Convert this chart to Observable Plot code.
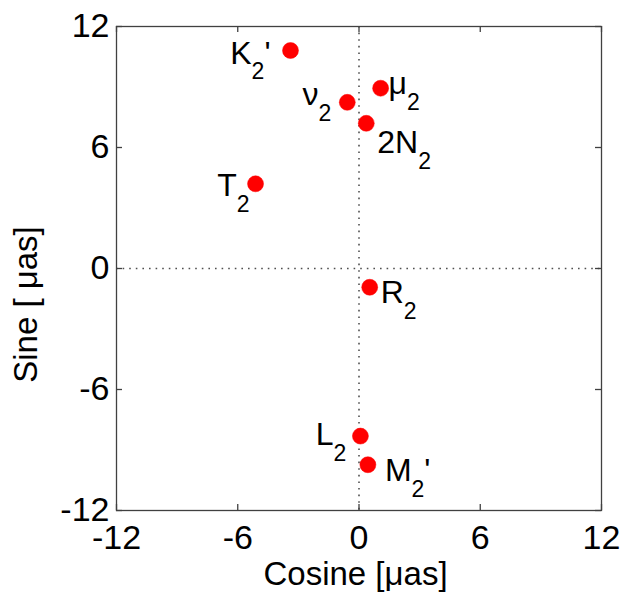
<!DOCTYPE html>
<html>
<head>
<meta charset="utf-8">
<script src="https://cdn.jsdelivr.net/npm/d3@7"></script>
<script src="https://cdn.jsdelivr.net/npm/@observablehq/plot@0.6"></script>
<style>
  html, body { margin: 0; padding: 0; background: #fff; }
  #chart { width: 624px; height: 596px; }
</style>
</head>
<body>
<div id="chart"></div>
<script>
// ---- data ----
const names  = ["K_2'", "μ_2", "ν_2", "2N_2", "T_2", "R_2", "L_2", "M_2'"];
const cosine = [-3.39, 1.07, -0.58, 0.36, -5.12, 0.53, 0.07, 0.44];
const sine   = [10.81, 8.94, 8.24, 7.20, 4.20, -0.93, -8.31, -9.73];

const xTicks = [-12, -6, 0, 6, 12];
const xTickLabels = ["-12", "-6", "0", "6", "12"];
const yTicks = [-12, -6, 0, 6, 12];
const yTickLabels = ["-12", "-6", "0", "6", "12"];

const xTitle = "Cosine [μas]";
const yTitle = "Sine [ μas]";

// ---- layout (label placement: anchor, dx, baseline offset in px) ----
const placement = {
  "K_2'": ["end", -20, 13],
  "μ_2":  ["start", 8, 6],
  "ν_2":  ["end", -16, 2.5],
  "2N_2": ["start", 11, 29.5],
  "T_2":  ["end", -6, 12],
  "R_2":  ["start", 11, 15.5],
  "L_2":  ["end", -14, 9],
  "M_2'": ["start", 17, 16]
};

const W = 624, H = 596;
const mL = 116, mR = 23, mT = 26, mB = 86;
const fw = W - mL - mR, fh = H - mT - mB;
const tickLen = 6;
const axisColor = "#404040";
const labelSize = 32, subSize = 23, subShift = 16;

const table = names.map((n, i) => ({name: n, c: cosine[i], s: sine[i]}));

const labelMarks = table.map(d => {
  const [anchor, dx, base] = placement[d.name];
  return Plot.text([d], {
    x: "c", y: "s", text: "name",
    textAnchor: anchor, lineAnchor: "middle", dx, dy: base - 0.32 * labelSize,
    fontSize: labelSize, fill: "black"
  });
});

const chart = Plot.plot({
  width: W, height: H,
  marginLeft: mL, marginRight: mR, marginTop: mT, marginBottom: mB,
  style: {fontFamily: "'Liberation Sans', Arial, sans-serif", background: "white", color: "black"},
  x: {domain: [-12, 12]},
  y: {domain: [-12, 12]},
  marks: [
    Plot.ruleX([0], {stroke: "#505050", strokeWidth: 1.6, strokeDasharray: "1.6,5"}),
    Plot.ruleY([0], {stroke: "#505050", strokeWidth: 1.6, strokeDasharray: "1.6,5"}),
    Plot.frame({stroke: axisColor, strokeWidth: 1.3}),
    Plot.tickX(xTicks, {x: d => d, insetTop: fh - tickLen, stroke: axisColor, strokeWidth: 1.3}),
    Plot.tickX(xTicks, {x: d => d, insetBottom: fh - tickLen, stroke: axisColor, strokeWidth: 1.3}),
    Plot.tickY(yTicks, {y: d => d, insetRight: fw - tickLen, stroke: axisColor, strokeWidth: 1.3}),
    Plot.tickY(yTicks, {y: d => d, insetLeft: fw - tickLen, stroke: axisColor, strokeWidth: 1.3}),
    Plot.axisX({ticks: xTicks, tickSize: 0, tickPadding: 14, fontSize: 34, label: null,
      tickFormat: d => xTickLabels[xTicks.indexOf(d)]}),
    Plot.axisY({ticks: yTicks, tickSize: 0, tickPadding: 7, fontSize: 34, label: null,
      tickFormat: d => yTickLabels[yTicks.indexOf(d)]}),
    Plot.text([xTitle], {frameAnchor: "bottom", textAnchor: "middle", text: d => d, dx: -3.5, dy: 74, fontSize: 33, fill: "black"}),
    Plot.text([yTitle], {frameAnchor: "left", textAnchor: "middle", lineAnchor: "middle", text: d => d, rotate: -90, dx: -90, dy: 36, fontSize: 33, fill: "black"}),
    Plot.dot(table, {x: "c", y: "s", r: 8, fill: "#ff0000", stroke: "#ff0000", strokeWidth: 0.5}),
    ...labelMarks
  ]
});

// subscript formatting for labels like "K_2'"
d3.select(chart).selectAll("text").each(function() {
  const t = this.textContent;
  const m = /^(.*?)_(\d)(.*)$/.exec(t);
  if (!m || this.querySelector("tspan")) return;
  const sel = d3.select(this);
  sel.text(null);
  sel.append("tspan").text(m[1]);
  sel.append("tspan").attr("font-size", subSize).attr("dy", subShift).text(m[2]);
  if (m[3]) sel.append("tspan").attr("font-size", labelSize).attr("dy", -subShift).text(m[3]);
});

document.getElementById("chart").appendChild(chart);
</script>
</body>
</html>
